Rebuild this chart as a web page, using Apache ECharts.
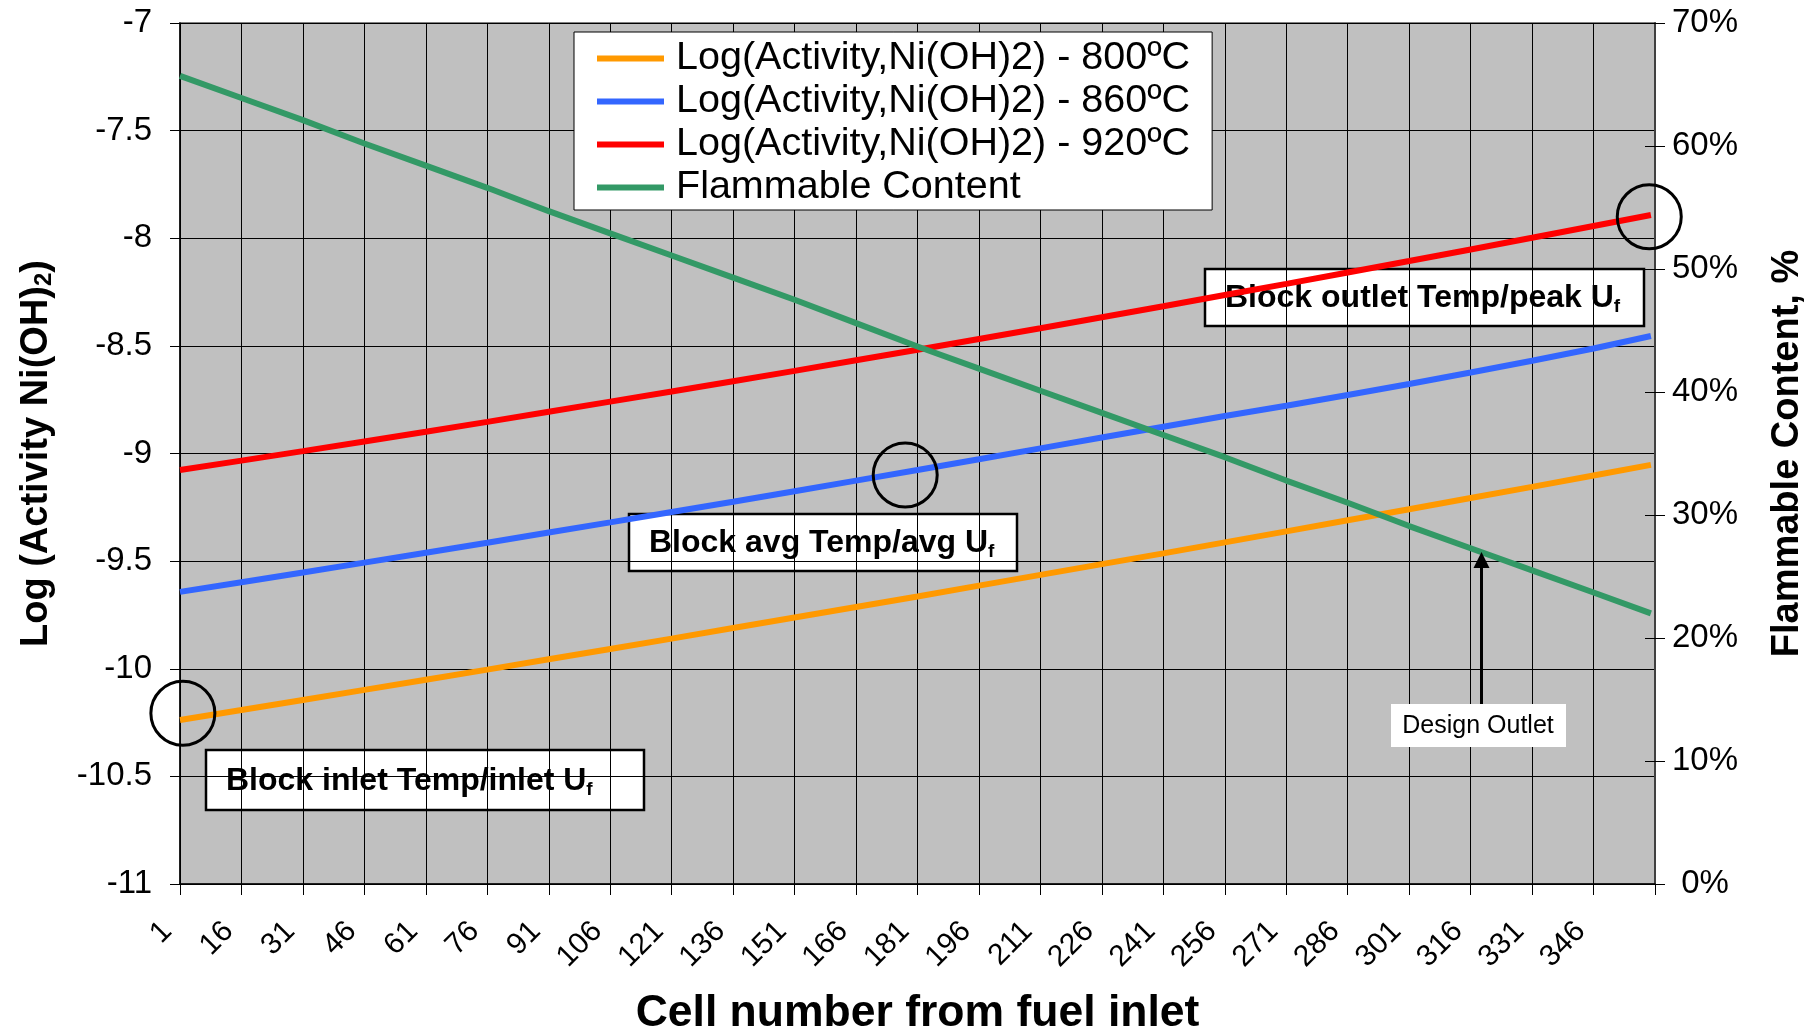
<!DOCTYPE html>
<html>
<head>
<meta charset="utf-8">
<script src="https://cdn.jsdelivr.net/npm/echarts@6/dist/echarts.min.js"></script>
<style>
html,body{margin:0;padding:0;background:#ffffff;}
#chart{width:1819px;height:1034px;}
</style>
</head>
<body>
<div id="chart"></div>
<script>
// ---- data ----
const cells = [1,16,31,46,61,76,91,106,121,136,151,166,181,196,211,226,241,256,271,286,301,316,331,346,360];
const logAct800 = [-10.238,-10.192,-10.145,-10.098,-10.051,-10.004,-9.956,-9.908,-9.860,-9.811,-9.762,-9.713,-9.664,-9.614,-9.564,-9.514,-9.464,-9.413,-9.362,-9.310,-9.259,-9.207,-9.155,-9.102,-9.053];
const logAct860 = [-9.643,-9.598,-9.553,-9.507,-9.461,-9.415,-9.367,-9.320,-9.272,-9.224,-9.175,-9.126,-9.077,-9.027,-8.976,-8.926,-8.876,-8.826,-8.778,-8.728,-8.677,-8.624,-8.569,-8.512,-8.454];
const logAct920 = [-9.077,-9.033,-8.989,-8.944,-8.899,-8.853,-8.806,-8.759,-8.712,-8.664,-8.616,-8.567,-8.518,-8.468,-8.418,-8.367,-8.316,-8.264,-8.212,-8.159,-8.106,-8.052,-7.998,-7.943,-7.892];
const flammablePct = [65.7,63.9,62.1,60.2,58.4,56.6,54.7,52.9,51.1,49.3,47.5,45.6,43.7,41.9,40.1,38.3,36.5,34.7,32.8,31.0,29.1,27.3,25.5,23.7,22.0];
const seriesNames = ['Log(Activity,Ni(OH)2) - 800\u00baC','Log(Activity,Ni(OH)2) - 860\u00baC','Log(Activity,Ni(OH)2) - 920\u00baC','Flammable Content'];
const seriesColors = ['#FF9900','#3366FF','#FF0000','#339966'];
// highlighted points (cell, log activity)
const circleInlet = [1.7, -10.207];
const circleAvg = [178, -9.10];
const circleOutlet = [359.6, -7.90];

const FONT = '"Liberation Sans", Arial, sans-serif';
const chart = echarts.init(document.getElementById('chart'), null, {renderer:'canvas'});

function pairs(arr){ return cells.map((c,i)=>[c, arr[i]]); }
function circleMark(coord){
  return {
    symbol:'circle', symbolSize:64, silent:true,
    itemStyle:{color:'rgba(0,0,0,0)', borderColor:'#000', borderWidth:3},
    label:{show:false},
    data:[{coord:coord}]
  };
}
function lineSeries(idx, arr, yIdx, mark){
  const s = {
    name: seriesNames[idx], type:'line', xAxisIndex:0, yAxisIndex:yIdx,
    data: pairs(arr), showSymbol:false, symbol:'none', smooth:false,
    lineStyle:{width:6, color:seriesColors[idx]}, itemStyle:{color:seriesColors[idx]},
    emphasis:{disabled:true}, animation:false
  };
  if (mark) s.markPoint = mark;
  return s;
}
function boxLabel(x, y, w, h, main, sub){
  return {
    type:'group', x:x, y:y, z:100,
    children:[
      {type:'rect', shape:{x:0,y:0,width:w,height:h}, style:{fill:'#fff', stroke:'#000', lineWidth:2.5}},
      {type:'text', x:20, y:h/2+1, style:{
        text:'{m|'+main+'}{s|'+sub+'}', align:'left', verticalAlign:'middle',
        rich:{
          m:{fontFamily:FONT, fontWeight:'bold', fontSize:32, lineHeight:36, fill:'#000'},
          s:{fontFamily:FONT, fontWeight:'bold', fontSize:19, lineHeight:16, verticalAlign:'bottom', fill:'#000'}
        }
      }}
    ]
  };
}

const option = {
  animation:false,
  backgroundColor:'#ffffff',
  textStyle:{fontFamily:FONT},
  grid:{left:180, top:23, right:164, bottom:150, show:true, backgroundColor:'#C0C0C0', borderColor:'#808080', borderWidth:2, containLabel:false, outerBoundsMode:'none'},
  legend:{
    show:true, orient:'vertical', left:574, top:32,
    data: seriesNames.map(n=>({name:n, icon:'rect'})),
    itemWidth:67, itemHeight:6, itemGap:0,
    backgroundColor:'#fff', borderColor:'#000', borderWidth:1,
    padding:[5,22,1,23],
    textStyle:{fontFamily:FONT, fontSize:39.5, color:'#000', lineHeight:43, padding:[0,0,0,7]},
    selectedMode:false
  },
  xAxis:{
    type:'value', min:1, max:361, interval:15,
    name:'Cell number from fuel inlet', nameLocation:'middle', nameGap:107, nameMoveOverlap:false,
    nameTextStyle:{fontFamily:FONT, fontSize:44.5, fontWeight:'bold', color:'#000'},
    axisLine:{show:true, onZero:false, lineStyle:{color:'#000', width:1.5}},
    axisTick:{show:true, length:11, lineStyle:{color:'#000', width:1}},
    axisLabel:{show:true, rotate:45, margin:30, fontFamily:FONT, fontSize:30, color:'#000', padding:[0,18,0,0],
      formatter:function(v){ return v>360 ? '' : String(v); }, hideOverlap:false, showMinLabel:true, showMaxLabel:true},
    splitLine:{show:true, lineStyle:{color:'#000', width:1}}
  },
  yAxis:[
    {
      type:'value', position:'left', min:-11, max:-7, interval:0.5,
      name:'Log (Activity Ni(OH){s|2})', nameLocation:'middle', nameGap:124, nameRotate:90, nameMoveOverlap:false,
      nameTextStyle:{fontFamily:FONT, fontSize:38, fontWeight:'bold', color:'#000',
        rich:{s:{fontFamily:FONT, fontSize:24, fontWeight:'bold', color:'#000', verticalAlign:'bottom', lineHeight:22}}},
      axisLine:{show:true, onZero:false, lineStyle:{color:'#000', width:1.5}},
      axisTick:{show:true, length:10, lineStyle:{color:'#000', width:1}},
      axisLabel:{margin:28, fontFamily:FONT, fontSize:33, color:'#000'},
      splitLine:{show:true, lineStyle:{color:'#000', width:1}}
    },
    {
      type:'value', position:'right', min:0, max:70, interval:10,
      name:'Flammable Content, %', nameLocation:'middle', nameGap:114, nameRotate:90, nameMoveOverlap:false,
      nameTextStyle:{fontFamily:FONT, fontSize:38, fontWeight:'bold', color:'#000'},
      axisLine:{show:true, onZero:false, lineStyle:{color:'#404040', width:2}},
      axisTick:{show:true, length:10, lineStyle:{color:'#000', width:1}},
      axisLabel:{margin:50, align:'center', fontFamily:FONT, fontSize:33, color:'#000', formatter:'{value}%'},
      splitLine:{show:false}
    },
    {
      type:'value', position:'right', min:0, max:70, interval:10,
      axisLine:{show:false}, axisLabel:{show:false}, splitLine:{show:false},
      axisTick:{show:true, inside:true, length:10, lineStyle:{color:'#000', width:1}}
    }
  ],
  series:[
    lineSeries(0, logAct800, 0, circleMark(circleInlet)),
    lineSeries(1, logAct860, 0, circleMark(circleAvg)),
    lineSeries(2, logAct920, 0, circleMark(circleOutlet)),
    lineSeries(3, flammablePct, 1, null)
  ],
  graphic:[
    boxLabel(206, 750, 438, 60, 'Block inlet Temp/inlet U', 'f'),
    boxLabel(629, 514, 388, 57, 'Block avg Temp/avg U', 'f'),
    boxLabel(1205, 269, 439, 57, 'Block outlet Temp/peak U', 'f'),
    {type:'rect', z:100, shape:{x:1391, y:704, width:175, height:43}, style:{fill:'#fff', stroke:null}},
    {type:'text', z:101, x:1478, y:726, style:{text:'Design Outlet', font:'25px '+FONT, fill:'#000', align:'center', verticalAlign:'middle'}},
    {type:'line', z:101, shape:{x1:1481.5, y1:704, x2:1481.5, y2:566}, style:{stroke:'#000', lineWidth:3}},
    {type:'polygon', z:101, shape:{points:[[1481.5,552],[1473.5,568],[1489.5,568]]}, style:{fill:'#000'}}
  ]
};
chart.setOption(option);
</script>
</body>
</html>
